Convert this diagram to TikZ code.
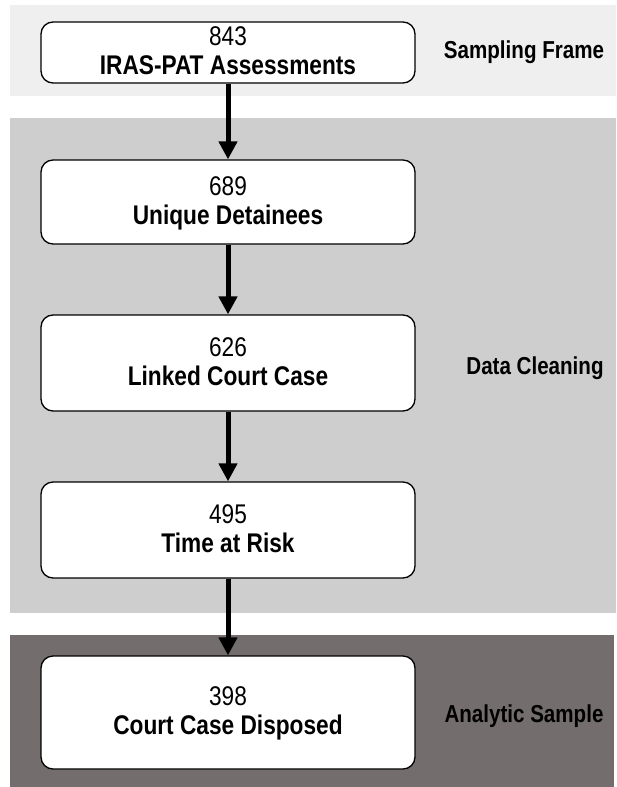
\documentclass[tikz,border=0pt]{standalone}
\usepackage{fontspec}
\setmainfont{Liberation Sans}[FakeStretch=0.84]
\usetikzlibrary{arrows.meta}
\definecolor{bandA}{HTML}{EFEFEF}
\definecolor{bandB}{HTML}{CECECE}
\definecolor{bandC}{HTML}{736D6D}
\newcommand{\stagetext}[2]{\raisebox{-2pt}[\height][\depth]{\begin{tabular}{@{}c@{}}#1\\\textbf{#2}\end{tabular}}}
\begin{document}
\begin{tikzpicture}[x=1pt,y=-1pt,
  stagebox/.style={draw=black,line width=1.3pt,fill=white,rounded corners=12pt,minimum width=374pt,inner ysep=0pt,font=\fontsize{27}{29}\selectfont},
  bandlabel/.style={font=\fontsize{24.5}{28}\selectfont\bfseries,anchor=center},
  flow/.style={line width=5pt,-{Triangle[length=18pt,width=18pt]}}]
\useasboundingbox (0,0) rectangle (616,787);
\fill[white] (0,0) rectangle (616,787);
\fill[bandA] (10,5) rectangle (616,96);
\fill[bandB] (10,118) rectangle (616,613);
\fill[bandC] (10,635) rectangle (614,787);
\node[stagebox,minimum height=61pt] (n1) at (228,52.5) {\stagetext{843}{IRAS-PAT Assessments}};
\node[stagebox,minimum height=84pt] (n2) at (228,202) {\stagetext{689}{Unique Detainees}};
\node[stagebox,minimum height=96pt] (n3) at (228,363) {\stagetext{626}{Linked Court Case}};
\node[stagebox,minimum height=96pt] (n4) at (228,530) {\stagetext{495}{Time at Risk}};
\node[stagebox,minimum height=113pt] (n5) at (228,712.5) {\stagetext{398}{Court Case Disposed}};
\node[bandlabel] (l1) at (524,52) {Sampling Frame};
\node[bandlabel] (l2) at (535,368) {Data Cleaning};
\node[bandlabel] (l3) at (524,716) {Analytic Sample};
\draw[flow] (n1.south) -- (n2.north);
\draw[flow] (n2.south) -- (n3.north);
\draw[flow] (n3.south) -- (n4.north);
\draw[flow] (n4.south) -- (n5.north);
\end{tikzpicture}
\end{document}
